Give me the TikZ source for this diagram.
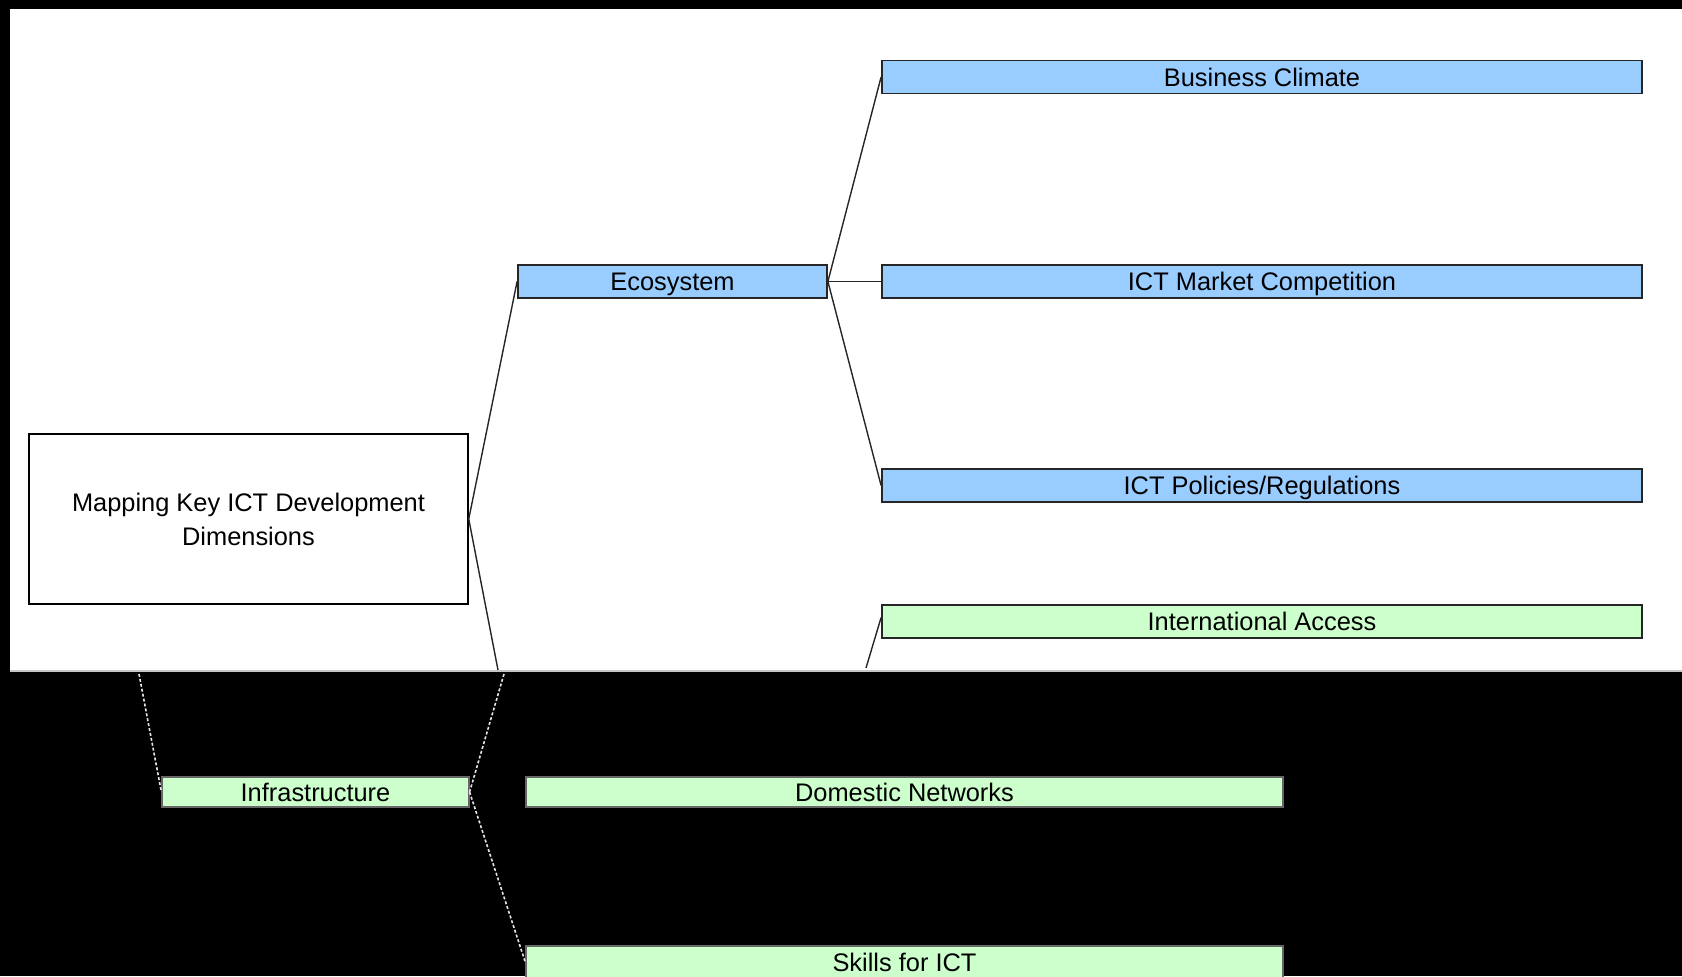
\documentclass[tikz,border=0pt]{standalone}
\usepackage{fontspec}
\setmainfont{Liberation Sans}
\definecolor{skyfill}{HTML}{99CCFF}
\definecolor{mintfill}{HTML}{CCFFCC}
\begin{document}
\begin{tikzpicture}[x=0.5pt,y=-0.5pt,
  lbl/.style={font=\fontsize{12.7}{17}\selectfont, inner sep=0pt, text=black},
  oneline/.style={lbl, text height=9.1pt, text depth=0pt},
  rootbox/.style={lbl, draw=black, line width=0.75pt, fill=white, align=center,
    minimum width=219.5pt, minimum height=85pt},
  bluebox/.style={oneline, draw=black!85, line width=0.9pt, fill=skyfill, minimum height=16.5pt},
  greenbox/.style={oneline, draw=black!85, line width=0.9pt, fill=mintfill, minimum height=16.5pt},
  darkgreen/.style={oneline, draw=black!60, line width=0.6pt, fill=mintfill, minimum height=15pt},
  link/.style={draw=black!85, line width=0.7pt},
  ghostlink/.style={draw=white!80!gray, line width=0.8pt, dash pattern=on 1.5pt off 1pt}
]
\useasboundingbox (0,0) rectangle (1682,976);
% background: black frame, white canvas, grey seam
\fill[black] (0,0) rectangle (1682,976);
\fill[white] (10,9) rectangle (1682,670);
\draw[gray!45, line width=1pt] (10,670.5) -- (1682,670.5);

% upper part
\node[rootbox] (root) at (248.5,519) {Mapping Key ICT Development\\Dimensions};
\node[bluebox, minimum width=154.5pt] (eco) at (672.5,281.5) {Ecosystem};
\node[bluebox, minimum width=380pt] (bc) at (1262,77) {Business Climate};
\node[bluebox, minimum width=380pt] (mc) at (1262,281.5) {ICT Market Competition};
\node[bluebox, minimum width=380pt] (pr) at (1262,485.5) {ICT Policies/Regulations};
\node[greenbox, minimum width=380pt] (ia) at (1262,621.5) {International Access};

\coordinate (rootdown) at (498,670);
\coordinate (iadown) at (866,668);

\draw[link] (root.east) -- (eco.west);
\draw[link] (root.east) -- (rootdown);
\draw[link] (eco.east) -- (bc.west);
\draw[link] (eco.east) -- (mc.west);
\draw[link] (eco.east) -- (pr.west);
\draw[link] (iadown) -- ([yshift=2pt]ia.west);

% lower part
\node[darkgreen, minimum width=153.5pt] (inf) at (315.5,792) {Infrastructure};
\node[darkgreen, minimum width=378.5pt] (dn) at (904.5,792) {Domestic Networks};
\node[darkgreen, minimum width=378.5pt, minimum height=16.5pt] (sk) at (904.5,962.5) {Skills for ICT};

\coordinate (infleft) at (139,674);
\coordinate (infright) at (504,674);

\draw[ghostlink] (infleft) -- (inf.west);
\draw[ghostlink] (infright) -- (inf.east);
\draw[ghostlink] (inf.east) -- (sk.west);
\end{tikzpicture}
\end{document}
